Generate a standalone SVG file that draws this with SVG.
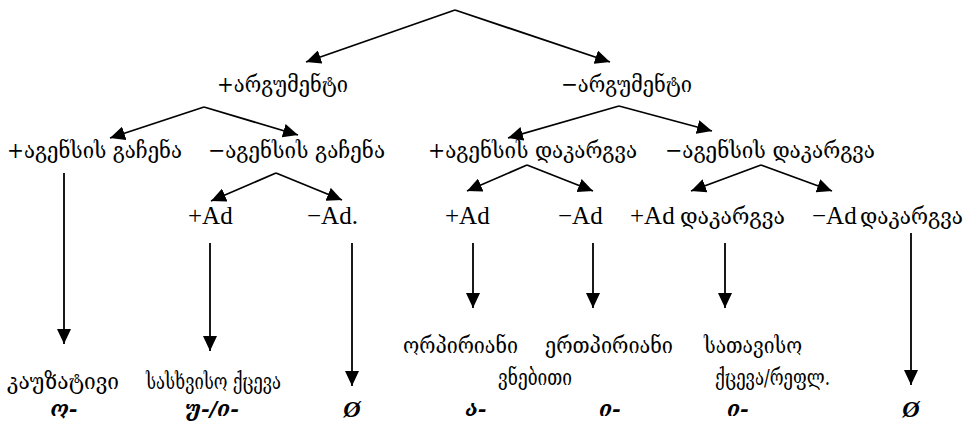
<svg xmlns="http://www.w3.org/2000/svg" width="974" height="428" viewBox="0 0 974 428">
<defs>
<marker id="ah" markerUnits="userSpaceOnUse" markerWidth="16" markerHeight="14" refX="15" refY="7" orient="auto">
<path d="M0,0 L15,7 L0,14 Z" fill="#000"/>
</marker>
<style>
.c{stroke:#000;stroke-width:1.8;fill:none;marker-end:url(#ah)}
.g{font-family:"DejaVu Serif","DejaVu Sans",serif;font-size:23px;fill:#000}
.r{font-family:"Liberation Serif","Times New Roman",serif;font-size:25px;fill:#000}
.b{font-family:"DejaVu Serif","DejaVu Sans",serif;font-size:21px;font-style:italic;font-weight:bold;fill:#000}
.z{font-family:"Liberation Serif",serif;font-size:24px;font-style:italic;font-weight:bold;fill:#000}
</style>
</defs>
<rect width="974" height="428" fill="#fff"/>
<g id="connectors">
<polyline class="c" points="455,10 306,62"/>
<polyline class="c" points="455,10 610,62"/>
<polyline class="c" points="204,107 110,138"/>
<polyline class="c" points="204,107 298,135"/>
<polyline class="c" points="619,106 508,138"/>
<polyline class="c" points="619,106 712,131"/>
<polyline class="c" points="276,173 211,201"/>
<polyline class="c" points="276,173 342,200"/>
<polyline class="c" points="527,165 467,191"/>
<polyline class="c" points="527,165 593,191"/>
<polyline class="c" points="761,165 691,191"/>
<polyline class="c" points="761,165 832,191"/>
<line class="c" x1="64" y1="173" x2="64" y2="344"/>
<line class="c" x1="210" y1="243" x2="210" y2="351"/>
<line class="c" x1="352" y1="243" x2="352" y2="386"/>
<line class="c" x1="473" y1="243" x2="473" y2="308"/>
<line class="c" x1="593" y1="243" x2="593" y2="308"/>
<line class="c" x1="725" y1="243" x2="725" y2="308"/>
<line class="c" x1="911" y1="233" x2="911" y2="385"/>
</g>
<g id="arg-plus"><text class="g" x="217" y="92" textLength="131" lengthAdjust="spacingAndGlyphs">+არგუმენტი</text></g>
<g id="arg-minus"><text class="g" x="561" y="92" textLength="131" lengthAdjust="spacingAndGlyphs">−არგუმენტი</text></g>
<g id="agens-plus-gachena"><text class="g" x="7" y="158" textLength="175" lengthAdjust="spacingAndGlyphs">+აგენსის  გაჩენა</text></g>
<g id="agens-minus-gachena"><text class="g" x="208" y="158" textLength="177" lengthAdjust="spacingAndGlyphs">−აგენსის  გაჩენა</text></g>
<g id="agens-plus-dakargva"><text class="g" x="428" y="158" textLength="209" lengthAdjust="spacingAndGlyphs">+აგენსის  დაკარგვა</text></g>
<g id="agens-minus-dakargva"><text class="g" x="665" y="158" textLength="210" lengthAdjust="spacingAndGlyphs">−აგენსის  დაკარგვა</text></g>
<g id="ad-plus-1"><text class="r" x="188" y="224">+Ad</text></g>
<g id="ad-minus-1"><text class="r" x="307" y="224">−Ad.</text></g>
<g id="ad-plus-2"><text class="r" x="445" y="224">+Ad</text></g>
<g id="ad-minus-2"><text class="r" x="558" y="224">−Ad</text></g>
<g id="ad-plus-loss"><text class="r" x="630" y="224">+Ad</text><text class="g" x="680" y="224" textLength="105" lengthAdjust="spacingAndGlyphs">დაკარგვა</text></g>
<g id="ad-minus-loss"><text class="r" x="812" y="224">−Ad</text><text class="g" x="860" y="224" textLength="103" lengthAdjust="spacingAndGlyphs">დაკარგვა</text></g>
<g id="causative"><text class="g" x="7" y="389" textLength="112" lengthAdjust="spacingAndGlyphs">კაუზატივი</text><text class="b" x="64" y="416" text-anchor="middle">ო-</text></g>
<g id="saskhviso"><text class="g" x="146" y="389" textLength="135" lengthAdjust="spacingAndGlyphs">სასხვისო  ქცევა</text><text class="b" x="212" y="416" text-anchor="middle">უ-/ი-</text></g>
<g id="null-1"><text class="z" x="352" y="417" text-anchor="middle">Ø</text></g>
<g id="passive"><text class="g" x="403" y="353" textLength="115" lengthAdjust="spacingAndGlyphs">ორპირიანი</text><text class="g" x="545" y="353" textLength="128" lengthAdjust="spacingAndGlyphs">ერთპირიანი</text><text class="g" x="498" y="385" textLength="74" lengthAdjust="spacingAndGlyphs">ვნებითი</text><text class="b" x="476" y="416" text-anchor="middle">ა-</text><text class="b" x="610" y="416" text-anchor="middle">ი-</text></g>
<g id="satavo"><text class="g" x="704" y="353" textLength="98" lengthAdjust="spacingAndGlyphs">სათავისო</text><text class="g" x="715" y="385" textLength="115" lengthAdjust="spacingAndGlyphs">ქცევა/რეფლ.</text><text class="b" x="738" y="416" text-anchor="middle">ი-</text></g>
<g id="null-2"><text class="z" x="911" y="417" text-anchor="middle">Ø</text></g>
</svg>
